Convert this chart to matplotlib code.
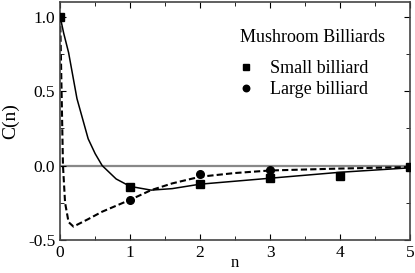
import numpy as np
import matplotlib.pyplot as plt
from matplotlib.ticker import MultipleLocator

# dados
n_pontos = [0, 1, 2, 3, 4, 5]
c_pequeno = [1.0, -0.145, -0.123, -0.085, -0.07, -0.01]
c_grande = [1.0, -0.23, -0.058, -0.03, np.nan, -0.01]

# curva continua (bilhar pequeno)
n_cont = [0, 0.05, 0.12, 0.24, 0.4, 0.5, 0.6, 0.8, 1.0, 1.3, 1.6, 2.0, 2.5, 3.0, 3.5, 4.0, 4.5, 5.0]
c_cont = [1.0, 0.89, 0.76, 0.45, 0.18, 0.08, 0.0, -0.09, -0.14, -0.165, -0.155, -0.125, -0.105, -0.085, -0.065, -0.045, -0.03, -0.015]

# curva tracejada (bilhar grande)
n_trac = [0, 0.02, 0.04, 0.07, 0.12, 0.19, 0.4, 0.6, 0.8, 1.0, 1.3, 1.6, 2.0, 2.5, 3.0, 4.0, 5.0]
c_trac = [1.0, 0.5, 0.0, -0.25, -0.38, -0.41, -0.36, -0.31, -0.27, -0.23, -0.165, -0.12, -0.075, -0.05, -0.033, -0.02, -0.01]

plt.rcParams['font.family'] = 'Liberation Serif'

fig = plt.figure(figsize=(4.15, 2.73), dpi=100)
ax = fig.add_axes([0.145, 0.121, 0.843, 0.872])

ax.axhline(0, color='#888888', lw=1.6, zorder=1)
ax.plot(n_cont, c_cont, color='black', lw=1.1, zorder=2)
ax.plot(n_trac, c_trac, color='black', lw=1.5, ls=(0, (3, 1.5)), zorder=2)
ax.plot(n_pontos, c_pequeno, 's', color='black', ms=5.5, ls='none', label='Small billiard', zorder=3)
ax.plot(n_pontos, c_grande, 'o', color='black', ms=5.5, ls='none', label='Large billiard', zorder=3)

ax.set_xlim(0, 5)
ax.set_ylim(-0.5, 1.1)
ax.xaxis.set_major_locator(MultipleLocator(1))
ax.xaxis.set_minor_locator(MultipleLocator(0.5))
ax.yaxis.set_major_locator(MultipleLocator(0.5))
ax.yaxis.set_minor_locator(MultipleLocator(0.25))
ax.tick_params(which='both', direction='in', top=True, right=True, labelsize=12.5)
ax.tick_params(which='major', length=4)
ax.tick_params(which='minor', length=3)
ax.set_yticks([-0.5, 0.0, 0.5, 1.0])
ax.set_yticklabels(['-0.5', '0.0', '0.5', '1.0'])
for s in ax.spines.values():
    s.set_color('#444444')
    s.set_linewidth(1.2)

ax.set_xlabel('n', fontsize=12, labelpad=-4)
ax.set_ylabel('C(n)', fontsize=14, labelpad=6)

# titulo da legenda como texto separado
ax.text(0.514, 0.849, 'Mushroom Billiards', transform=ax.transAxes, fontsize=13,
        ha='left', va='center')
leg = ax.legend(frameon=False, fontsize=13, loc='upper left', bbox_to_anchor=(0.489, 0.755),
                borderaxespad=0, borderpad=0, handletextpad=0.55,
                labelspacing=0.2, markerscale=0.85, handlelength=1.6)

plt.savefig('out.png', dpi=100)
